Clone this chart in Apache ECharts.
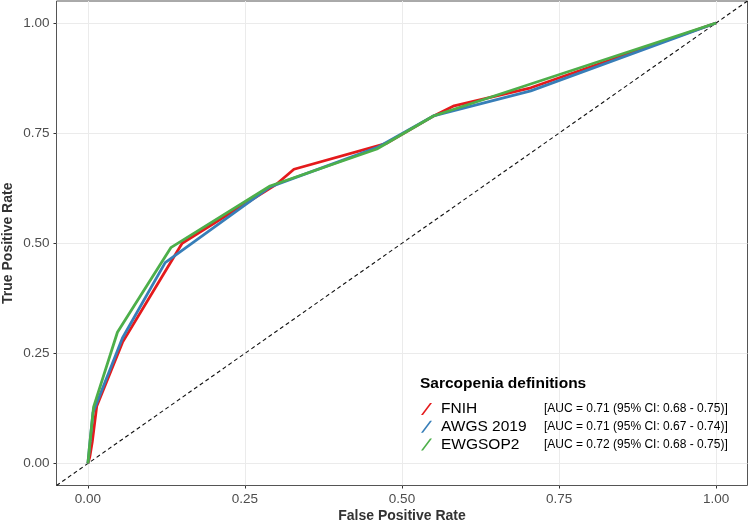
<!DOCTYPE html>
<html>
<head>
<meta charset="utf-8">
<script src="https://cdn.jsdelivr.net/npm/echarts@6/dist/echarts.min.js"></script>
<style>html,body{margin:0;padding:0;background:#fff;}#c{width:750px;height:523px;}</style>
</head>
<body>
<div id="c"></div>
<script>
// ROC data
const fnihFPR  = [0, 0.003, 0.007, 0.014, 0.055, 0.15, 0.30, 0.328, 0.474, 0.548, 0.583, 0.705, 1];
const fnihTPR  = [0, 0.015, 0.05, 0.13, 0.275, 0.50, 0.634, 0.668, 0.726, 0.787, 0.812, 0.853, 1];
const awgsFPR  = [0, 0.002, 0.008, 0.055, 0.123, 0.29, 0.46, 0.55, 0.705, 1];
const awgsTPR  = [0, 0.03, 0.115, 0.285, 0.456, 0.628, 0.717, 0.789, 0.846, 1];
const ewgsFPR  = [0, 0.002, 0.009, 0.047, 0.132, 0.29, 0.46, 0.55, 1];
const ewgsTPR  = [0, 0.03, 0.128, 0.298, 0.49, 0.63, 0.714, 0.789, 1];
const refLine  = [-0.05, 1.05];
const tickVals = [0, 0.25, 0.5, 0.75, 1];
const tickLabels = ['0.00', '0.25', '0.50', '0.75', '1.00'];
const seriesNames = ['FNIH', 'AWGS 2019', 'EWGSOP2'];
const aucTexts = ['[AUC = 0.71 (95% CI: 0.68 - 0.75)]', '[AUC = 0.71 (95% CI: 0.67 - 0.74)]', '[AUC = 0.72 (95% CI: 0.68 - 0.75)]'];
const legendTitle = 'Sarcopenia definitions';
const colors = ['#E41A1C', '#377EB8', '#4DAF4A'];

function pairs(xs, ys) { return xs.map((x, i) => [x, ys[i]]); }
const curves = [pairs(fnihFPR, fnihTPR), pairs(awgsFPR, awgsTPR), pairs(ewgsFPR, ewgsTPR)];

const chart = echarts.init(document.getElementById('c'), null, {renderer: 'canvas'});
const labelFmt = v => { const i = tickVals.findIndex(t => Math.abs(t - v) < 1e-9); return i >= 0 ? tickLabels[i] : ''; };
const axisCommon = {
  type: 'value', min: -0.05, max: 1.05,
  axisLine: {show: false, onZero: false},
  axisTick: {show: true, customValues: tickVals, length: 3, lineStyle: {color: '#333', width: 1}},
  axisLabel: {customValues: tickVals, formatter: labelFmt, color: '#4D4D4D', fontSize: 13.5, fontFamily: 'Liberation Sans'},
  splitLine: {show: true, lineStyle: {color: '#EBEBEB', width: 1}},
  nameLocation: 'middle',
  nameMoveOverlap: false,
  nameTextStyle: {fontWeight: 'bold', fontSize: 14, color: '#333', fontFamily: 'Liberation Sans'}
};
const series = [{
  type: 'line', name: 'ref', data: pairs(refLine, refLine), showSymbol: false, symbol: 'none',
  lineStyle: {color: '#111', width: 1.1, type: [4, 3]}, silent: true, z: 1
}];
seriesNames.forEach((n, i) => {
  series.push({
    type: 'line', name: n, data: curves[i], showSymbol: false, symbol: 'none',
    itemStyle: {color: colors[i]}, lineStyle: {color: colors[i], width: 2.8}, z: 2 + i
  });
});
chart.setOption({
  animation: false,
  backgroundColor: '#fff',
  grid: {left: 56.5, right: 2.5, top: 1, bottom: 37.5, show: true, borderColor: '#555', borderWidth: 1,
    backgroundColor: 'transparent', containLabel: false, outerBoundsMode: 'none'},
  xAxis: Object.assign({}, axisCommon, {name: 'False Positive Rate', nameGap: 24,
    axisLabel: Object.assign({}, axisCommon.axisLabel, {margin: 7})}),
  yAxis: Object.assign({}, axisCommon, {name: 'True Positive Rate', nameGap: 41,
    axisLabel: Object.assign({}, axisCommon.axisLabel, {margin: 7})}),
  title: {text: legendTitle, left: 420, top: 376, padding: 0,
    textStyle: {fontSize: 15.5, fontWeight: 'bold', color: '#000', fontFamily: 'Liberation Sans'}},
  legend: {
    data: seriesNames, orient: 'vertical', left: 421, top: 401, padding: 0,
    itemWidth: 11, itemHeight: 13, itemGap: 1.7,
    icon: 'path://M0,12 L2,12 L11,0 L9,0 Z',
    formatter: name => { const i = seriesNames.indexOf(name); return '{n|' + name + '}{a|' + aucTexts[i] + '}'; },
    textStyle: {
      rich: {
        n: {width: 103, padding: [0, 0, 0, 4], fontSize: 15.5, color: '#000', fontFamily: 'Liberation Sans', lineHeight: 15},
        a: {fontSize: 12, color: '#000', fontFamily: 'Liberation Sans', lineHeight: 15}
      }
    }
  },
  series: series
});
</script>
</body>
</html>
